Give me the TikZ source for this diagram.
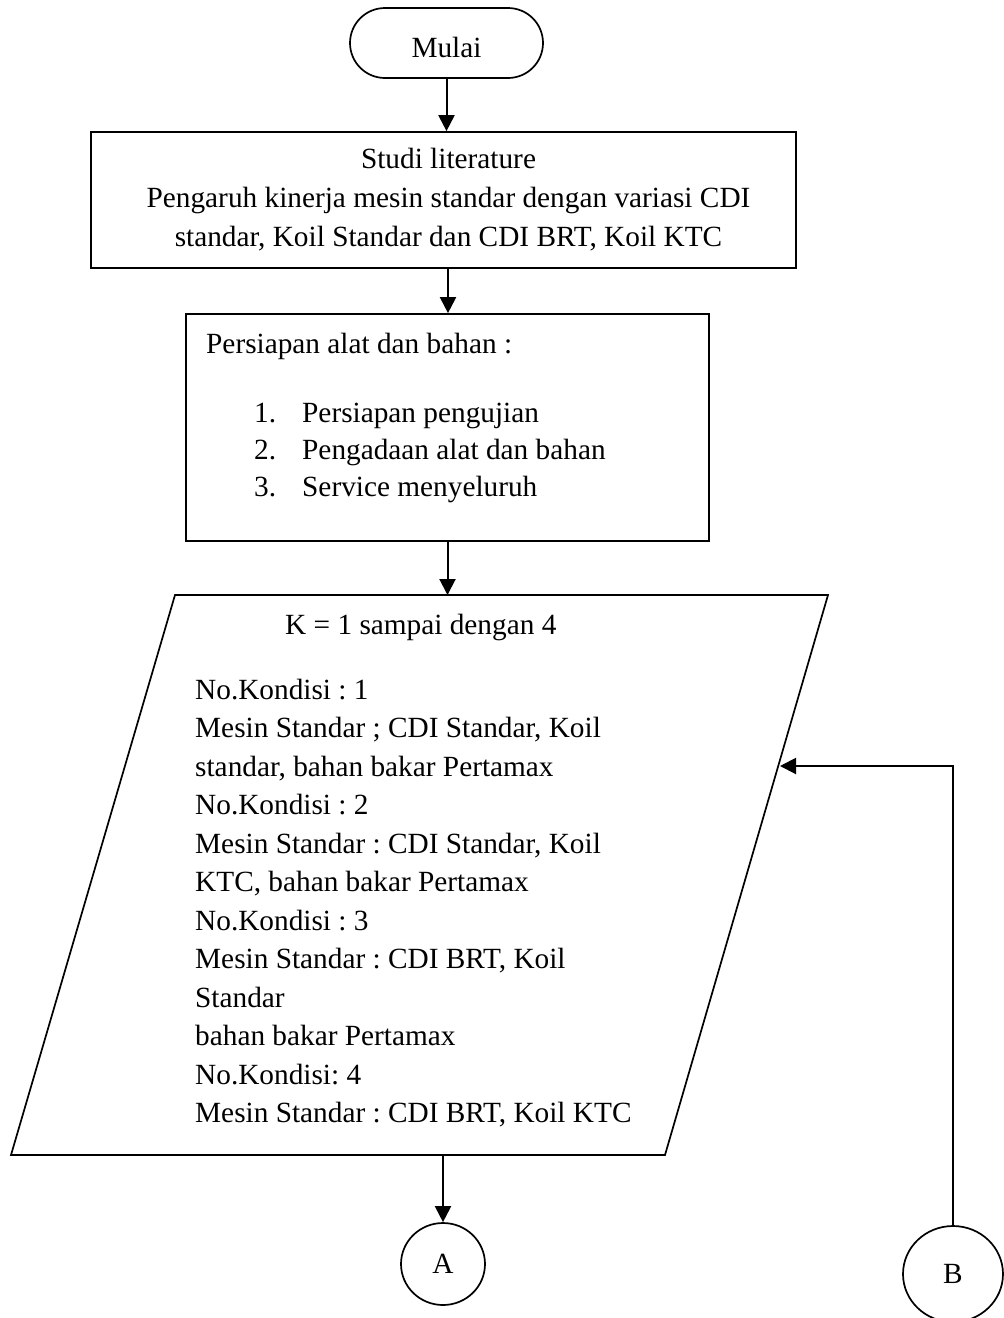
\documentclass[tikz,border=0pt]{standalone}
\usepackage{fontspec}
\setmainfont{Liberation Serif}
\usetikzlibrary{arrows.meta,shapes.geometric,calc}
\frenchspacing
\begin{document}
\begin{tikzpicture}[x=1pt,y=-1pt,
  txt/.style={font=\fontsize{29.3}{38}\selectfont, inner sep=0pt},
  shp/.style={draw, line width=1.7pt},
  arr/.style={-{Triangle[length=16pt,width=16pt]}, line width=2pt}]
\useasboundingbox[fill=white] (0,0) rectangle (1004,1318);

% start terminator
\node[shp, rounded corners=35pt, minimum width=193pt, minimum height=70pt, inner sep=0pt] (mulai) at (446.5,43) {};
\node[txt] (tmulai) at (446.5,47) {Mulai};

% box 1
\node[shp, minimum width=705pt, minimum height=136pt, inner sep=0pt] (box1) at (443.5,200) {};
\node[txt, anchor=base] (b1a) at (448.5,168) {Studi literature};
\node[txt, anchor=base] (b1b) at (448.5,207) {Pengaruh kinerja mesin standar dengan variasi CDI};
\node[txt, anchor=base] (b1c) at (448.5,246) {standar, Koil Standar dan CDI BRT, Koil KTC};

% box 2
\node[shp, minimum width=523pt, minimum height=227pt, inner sep=0pt] (box2) at (447.5,427.5) {};
\node[txt, anchor=base west] (b2h) at (206,353) {Persiapan alat dan bahan :};
\node[txt, anchor=base west] (n1) at (254,422) {1.};
\node[txt, anchor=base west] (i1) at (302,422) {Persiapan pengujian};
\node[txt, anchor=base west] (n2) at (254,459) {2.};
\node[txt, anchor=base west] (i2) at (302,459) {Pengadaan alat dan bahan};
\node[txt, anchor=base west] (n3) at (254,496) {3.};
\node[txt, anchor=base west] (i3) at (302,496) {Service menyeluruh};

% parallelogram
\coordinate (ptl) at (175,595);
\coordinate (ptr) at (828,595);
\coordinate (pbr) at (665,1155);
\coordinate (pbl) at (11,1155);
\draw[shp, line join=miter] (ptl) -- (ptr) -- (pbr) -- (pbl) -- cycle;
\coordinate (ptop) at (447.5,595);
\coordinate (pbot) at (443,1155);
\coordinate (pin) at (780,766);

\node[txt, anchor=base west] (kline) at (285,634) {K = 1 sampai dengan 4};
\foreach \t [count=\i] in {
  {No.Kondisi : 1},
  {Mesin Standar ; CDI Standar, Koil},
  {standar, bahan bakar Pertamax},
  {No.Kondisi : 2},
  {Mesin Standar : CDI Standar, Koil},
  {KTC, bahan bakar Pertamax},
  {No.Kondisi : 3},
  {Mesin Standar : CDI BRT, Koil},
  {Standar},
  {bahan bakar Pertamax},
  {No.Kondisi: 4},
  {Mesin Standar : CDI BRT, Koil KTC}} {
  \node[txt, anchor=base west] (pl\i) at (195,{699+38.5*(\i-1)}) {\t};
}

% connectors A and B
\node[shp, ellipse, minimum width=84pt, minimum height=82pt, inner sep=0pt] (A) at (443,1264) {};
\node[txt] (tA) at (443,1264) {A};
\node[shp, ellipse, minimum width=100pt, minimum height=96pt, inner sep=0pt] (B) at (953,1274) {};
\node[txt] (tB) at (953,1274) {B};

% arrows
\draw[arr] (mulai.south) -- (mulai.south |- box1.north);
\draw[arr] ($(box1.south)+(4.5,0)$) -- ($(box2.north)+(0.5,0)$);
\draw[arr] (box2.south) -- (ptop);
\draw[arr] (pbot) -- (A.north);
\draw[arr] (B.north) |- (pin);
\end{tikzpicture}
\end{document}
